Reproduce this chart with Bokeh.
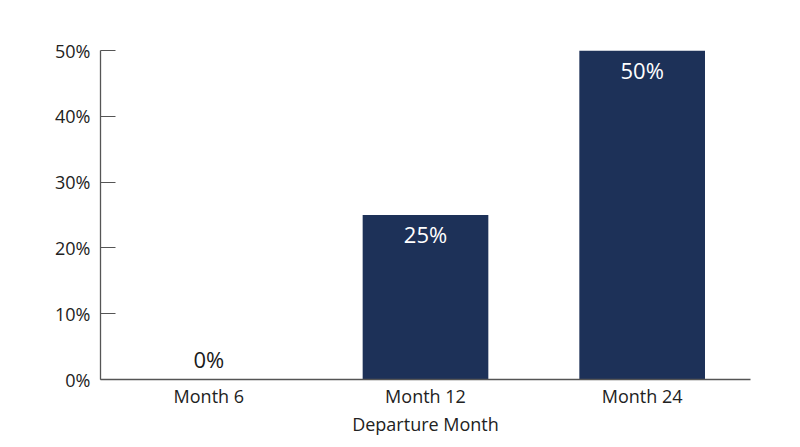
from bokeh.plotting import figure
from bokeh.models import ColumnDataSource, FixedTicker, NumeralTickFormatter, Range1d
from bokeh.core.properties import value
from bokeh.embed import file_html
from bokeh.resources import INLINE

categories = ["Month 6", "Month 12", "Month 24"]
rates = [0.0, 0.25, 0.50]
rate_labels = ["0%", "25%", "50%"]
y_ticks = [0.0, 0.1, 0.2, 0.3, 0.4, 0.5]

BAR = "#1d3158"
FONT = "Open Sans"

src = ColumnDataSource(dict(
    cat=categories,
    rate=rates,
    label=rate_labels,
    color=["#1a1a1a" if r == 0 else "white" for r in rates],
    off=[-21 if r == 0 else 19 for r in rates],
))

p = figure(x_range=categories, y_range=Range1d(0, 0.5),
           width=784, height=438, output_backend="svg", toolbar_location=None,
           min_border_left=100, min_border_right=34, min_border_top=50, min_border_bottom=58)
p.outline_line_color = None
p.xgrid.visible = False
p.ygrid.visible = False
p.x_range.range_padding = 0

p.vbar(x="cat", top="rate", width=0.58, source=src, fill_color=BAR, line_color=None)
p.text(x="cat", y="rate", text="label", source=src, text_color="color",
       text_align="center", text_baseline="middle", y_offset="off",
       text_font=value(FONT), text_font_size="22px")

for ax in (p.xaxis[0], p.yaxis[0]):
    ax.axis_line_color = "#555555"
    ax.axis_line_width = 1.3
    ax.major_label_text_font = FONT
    ax.major_label_text_font_size = "18px"
    ax.major_label_text_color = "#222222"
    ax.minor_tick_line_color = None

p.yaxis.ticker = FixedTicker(ticks=y_ticks)
p.yaxis.formatter = NumeralTickFormatter(format="0%")
p.yaxis.major_tick_in = 15
p.yaxis.major_tick_out = 0
p.yaxis.major_tick_line_color = "#555555"
p.yaxis.major_label_standoff = 10

p.xaxis.major_tick_line_color = None
p.xaxis.major_tick_in = 0
p.xaxis.major_tick_out = 0
p.xaxis.major_label_standoff = 4
p.xaxis.axis_label = "Departure Month"
p.xaxis.axis_label_text_font = FONT
p.xaxis.axis_label_text_font_size = "18px"
p.xaxis.axis_label_text_font_style = "normal"
p.xaxis.axis_label_text_color = "#222222"
p.xaxis.axis_label_standoff = 1

open("out.html", "w").write(file_html(p, INLINE))
